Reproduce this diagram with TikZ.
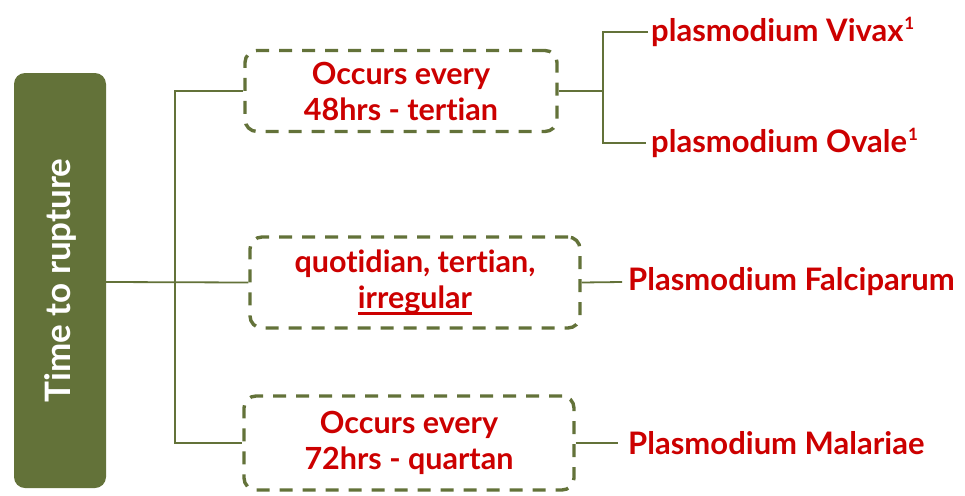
\documentclass[tikz,border=0pt]{standalone}
\usepackage{fontspec}
\setmainfont{Lato}[Ligatures=NoCommon]
\definecolor{olive}{RGB}{99,114,57}
\definecolor{darkred}{RGB}{204,0,0}
% heavy underline drawn as a rule beneath the text
\newcommand\heavyul[1]{\begingroup\setbox0=\hbox{#1}%
  \hbox{\copy0\kern-\wd0\vrule width \wd0 height -4pt depth 6.8pt}\endgroup}
% small raised footnote mark
\newcommand\fnmark[1]{\kern1pt\raisebox{11.5pt}{\fontsize{17}{17}\selectfont\bfseries #1}}
\begin{document}
\begin{tikzpicture}[x=1pt,y=-1pt,
  link/.style={draw=olive,line width=1.8pt},
  dashbox/.style={draw=olive,line width=3.4pt,dash pattern=on 13pt off 10pt,
    rounded corners=12pt,minimum height=#1,align=center,inner sep=0pt,
    text=darkred,font=\fontsize{30.5}{36}\selectfont\bfseries},
  species/.style={anchor=west,inner sep=0pt,text=darkred,
    font=\fontsize{31}{36}\selectfont\bfseries}]
  \useasboundingbox (0,0) rectangle (965,495);
  % root box
  \node[fill=olive,rounded corners=11pt,minimum width=92pt,minimum height=415pt,
        inner sep=0pt] (root) at (60,280.5) {};
  \node[rotate=90,text=white,font=\fontsize{35}{40}\selectfont\bfseries] (roottxt)
        at (root.center) {Time to rupture};
  % period boxes
  \node[dashbox=81pt,minimum width=312pt] (top) at (401,91) {Occurs every\\48hrs - tertian};
  \node[dashbox=91pt,minimum width=330pt] (mid) at (415,282.5) {quotidian, tertian,\\\heavyul{irregular}};
  \node[dashbox=94pt,minimum width=330pt] (bot) at (409,443) {Occurs every\\72hrs - quartan};
  % species labels
  \node[species] (vivax) at (651,32) {plasmodium Vivax\fnmark{1}};
  \node[species] (ovale) at (651,143) {plasmodium Ovale\fnmark{1}};
  \node[species] (falc) at (628,282) {Plasmodium Falciparum};
  \node[species] (mal) at (628,443) {Plasmodium Malariae};
  % branch points
  \coordinate (tr) at (175,282);
  \coordinate (br) at (603,91);
  % left tree
  \draw[link] (root.east |- tr) -- (mid.west);
  \draw[link] (top.west) -- (top.west -| tr) -- (bot.west -| tr) -- (bot.west);
  % right tree
  \draw[link] (top.east) -- (br);
  \draw[link] ([xshift=-3pt]vivax.west) -- (vivax.west -| br) -- (ovale.west -| br) -- ([xshift=-5pt]ovale.west);
  \draw[link] (mid.east) -- ([xshift=-6pt]falc.west);
  \draw[link] (bot.east) -- ([xshift=-10pt]mal.west);
\end{tikzpicture}
\end{document}
